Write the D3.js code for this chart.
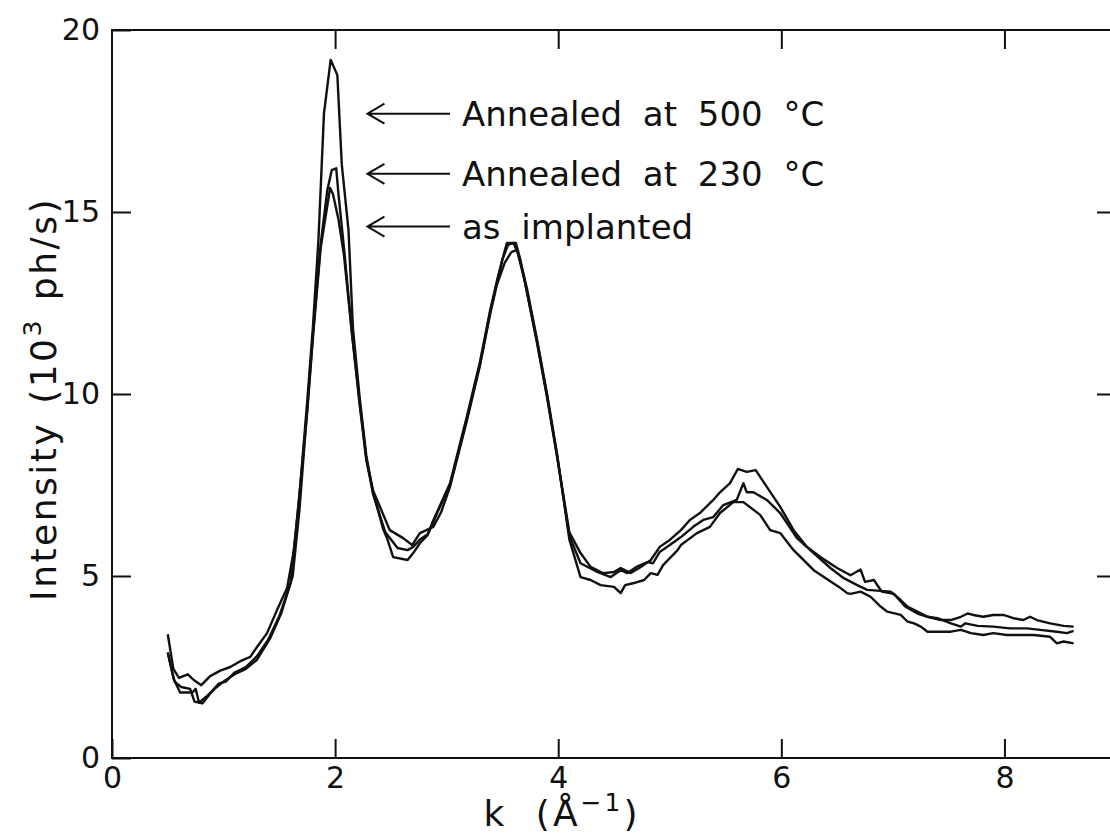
<!DOCTYPE html>
<html lang="en">
<head>
<meta charset="UTF-8">
<title>Intensity vs k</title>
<script src="https://d3js.org/d3.v7.min.js"></script>
<style>
body { margin: 0; background: #fff; overflow: hidden; }
svg { display: block; }
.tick text { font-family: "DejaVu Sans", sans-serif; font-size: 30px; fill: #111; }
.tick line { stroke: #111; stroke-width: 2; }
.frame { fill: none; stroke: #111; stroke-width: 2; }
.curve { fill: none; stroke: #111; stroke-width: 2.4; stroke-linejoin: round; }
.label { font-family: "DejaVu Sans", sans-serif; font-size: 34px; fill: #111; }
.title { font-family: "DejaVu Sans", sans-serif; font-size: 36px; fill: #111; }
.arrow { stroke: #111; stroke-width: 2; fill: none; }
</style>
</head>
<body>
<svg width="1110" height="833"></svg>
<script>
// axis ticks
const xTicks = [0, 2, 4, 6, 8];
const yTicks = [0, 5, 10, 15, 20];

// [k, intensity]
const annealed500 = [[0.50,3.40],[0.55,2.45],[0.60,2.20],[0.68,2.30],[0.73,2.15],[0.80,2.00],[0.88,2.25],[0.97,2.40],[1.06,2.50],[1.15,2.66],[1.24,2.78],[1.30,3.05],[1.39,3.43],[1.48,4.07],[1.57,4.67],[1.63,5.70],[1.68,7.20],[1.75,9.80],[1.80,11.80],[1.85,14.20],[1.90,17.70],[1.96,19.18],[2.02,18.76],[2.06,16.30],[2.12,14.50],[2.16,11.80],[2.22,9.90],[2.28,8.30],[2.34,7.30],[2.43,6.30],[2.47,6.00],[2.52,5.52],[2.65,5.44],[2.70,5.63],[2.76,5.90],[2.83,6.13],[2.87,6.46],[2.91,6.73],[3.03,7.55],[3.18,9.37],[3.30,10.90],[3.39,12.30],[3.45,13.10],[3.50,13.70],[3.54,14.15],[3.62,14.15],[3.66,13.70],[3.70,13.10],[3.81,11.40],[3.90,9.90],[3.99,8.27],[4.10,6.20],[4.20,5.63],[4.29,5.25],[4.40,5.08],[4.50,5.11],[4.56,5.22],[4.65,5.08],[4.74,5.25],[4.83,5.44],[4.91,5.80],[5.00,5.99],[5.10,6.26],[5.18,6.54],[5.27,6.73],[5.39,7.09],[5.45,7.30],[5.54,7.55],[5.61,7.94],[5.69,7.86],[5.77,7.91],[5.87,7.45],[5.99,6.90],[6.11,6.26],[6.23,5.80],[6.35,5.52],[6.50,5.22],[6.62,5.02],[6.71,5.18],[6.75,4.84],[6.83,4.89],[6.90,4.57],[7.01,4.51],[7.11,4.16],[7.22,3.97],[7.31,3.88],[7.40,3.84],[7.52,3.70],[7.61,3.61],[7.65,3.70],[7.76,3.63],[7.90,3.61],[8.05,3.56],[8.20,3.56],[8.32,3.52],[8.47,3.47],[8.56,3.43],[8.62,3.49]];

const annealed230 = [[0.50,2.90],[0.55,2.20],[0.61,1.80],[0.72,1.80],[0.75,1.90],[0.78,1.52],[0.85,1.70],[0.92,1.90],[1.00,2.10],[1.10,2.30],[1.20,2.45],[1.30,2.70],[1.42,3.30],[1.52,4.00],[1.62,5.00],[1.68,6.80],[1.75,9.60],[1.80,11.60],[1.87,14.10],[1.93,15.60],[1.97,16.15],[2.01,16.20],[2.03,15.50],[2.08,14.00],[2.15,11.70],[2.22,9.70],[2.28,8.20],[2.34,7.25],[2.45,6.20],[2.56,5.77],[2.65,5.71],[2.70,5.80],[2.76,6.00],[2.83,6.15],[2.87,6.40],[2.91,6.70],[3.03,7.50],[3.18,9.30],[3.30,10.85],[3.39,12.25],[3.45,13.05],[3.50,13.70],[3.55,14.10],[3.60,14.15],[3.64,13.85],[3.70,13.10],[3.81,11.45],[3.90,9.95],[3.99,8.30],[4.10,6.10],[4.20,5.35],[4.35,5.11],[4.47,4.97],[4.56,5.16],[4.62,5.08],[4.70,5.25],[4.80,5.38],[4.85,5.35],[4.91,5.66],[5.00,5.85],[5.10,6.07],[5.21,6.35],[5.30,6.54],[5.39,6.62],[5.48,6.95],[5.60,7.09],[5.66,7.55],[5.69,7.30],[5.75,7.30],[5.87,7.09],[5.99,6.73],[6.14,6.04],[6.29,5.63],[6.44,5.22],[6.56,4.94],[6.68,4.75],[6.77,4.62],[6.89,4.59],[6.98,4.57],[7.07,4.34],[7.13,4.16],[7.22,4.02],[7.31,3.88],[7.43,3.79],[7.52,3.79],[7.61,3.88],[7.67,3.97],[7.72,3.93],[7.81,3.88],[7.90,3.93],[7.99,3.93],[8.08,3.84],[8.17,3.79],[8.23,3.88],[8.29,3.79],[8.41,3.70],[8.53,3.63],[8.62,3.61]];

const asImplanted = [[0.50,2.90],[0.56,2.10],[0.62,1.95],[0.70,1.90],[0.74,1.55],[0.81,1.50],[0.90,1.85],[0.96,2.05],[1.02,2.10],[1.10,2.35],[1.20,2.50],[1.30,2.80],[1.40,3.25],[1.50,3.90],[1.60,4.80],[1.66,6.60],[1.75,9.50],[1.80,11.50],[1.87,14.00],[1.955,15.66],[1.98,15.50],[2.03,14.80],[2.08,13.80],[2.15,11.70],[2.22,9.80],[2.28,8.20],[2.34,7.35],[2.49,6.26],[2.61,6.04],[2.69,5.85],[2.76,6.18],[2.88,6.35],[2.95,6.75],[3.03,7.45],[3.18,9.25],[3.30,10.80],[3.39,12.20],[3.45,13.00],[3.52,13.60],[3.58,13.90],[3.63,13.96],[3.68,13.40],[3.72,12.90],[3.81,11.50],[3.90,10.00],[3.99,8.35],[4.10,6.00],[4.20,4.97],[4.29,4.89],[4.38,4.75],[4.50,4.70],[4.56,4.53],[4.60,4.75],[4.67,4.80],[4.77,4.89],[4.83,5.08],[4.89,5.03],[4.94,5.30],[5.07,5.71],[5.10,5.85],[5.24,6.17],[5.36,6.35],[5.45,6.73],[5.57,7.03],[5.66,7.03],[5.81,6.68],[5.90,6.26],[5.99,6.18],[6.11,5.71],[6.29,5.16],[6.53,4.67],[6.59,4.53],[6.62,4.51],[6.71,4.57],[6.80,4.43],[6.89,4.16],[6.95,4.02],[7.07,3.93],[7.13,3.75],[7.19,3.70],[7.25,3.61],[7.31,3.47],[7.43,3.47],[7.52,3.47],[7.61,3.52],[7.70,3.43],[7.81,3.38],[7.90,3.43],[8.02,3.38],[8.11,3.38],[8.26,3.38],[8.41,3.33],[8.47,3.15],[8.53,3.20],[8.62,3.15]];

// annotations: label text and the intensity level its arrow sits at
const labels = ["Annealed at 500 °C", "Annealed at 230 °C", "as implanted"];
const labelLevels = [17.7, 16.05, 14.6];

const svg = d3.select('svg');

const x = d3.scaleLinear().domain([0, 9]).range([112, 1116]);
const y = d3.scaleLinear().domain([0, 20]).range([758, 30]);

// frame
svg.append('rect')
    .attr('class', 'frame')
    .attr('x', x(0)).attr('y', y(20))
    .attr('width', x(9) - x(0)).attr('height', y(0) - y(20));

// ticks point inward on all four sides
svg.append('g')
    .attr('transform', `translate(0,${y(0)})`)
    .call(d3.axisBottom(x).tickValues(xTicks).tickSizeInner(-19).tickSizeOuter(0).tickPadding(9))
    .call(g => g.select('.domain').remove());

svg.append('g')
    .attr('transform', `translate(${x(0)},0)`)
    .call(d3.axisLeft(y).tickValues(yTicks).tickSizeInner(-19).tickSizeOuter(0).tickPadding(12))
    .call(g => g.select('.domain').remove());

svg.append('g')
    .attr('transform', `translate(0,${y(20)})`)
    .call(d3.axisTop(x).tickValues(xTicks.slice(1)).tickSizeInner(-19).tickSizeOuter(0).tickFormat(''))
    .call(g => g.select('.domain').remove());

svg.append('g')
    .attr('transform', `translate(${x(9)},0)`)
    .call(d3.axisRight(y).tickValues(yTicks.slice(1, 4)).tickSizeInner(-19).tickSizeOuter(0).tickFormat(''))
    .call(g => g.select('.domain').remove());

// curves
const line = d3.line().x(d => x(d[0])).y(d => y(d[1]));
[annealed500, annealed230, asImplanted].forEach(s => {
  svg.append('path').attr('class', 'curve').attr('d', line(s));
});

// arrows + labels
const ann = svg.append('g');
labels.forEach((t, i) => {
  const yy = y(labelLevels[i]);
  const x0 = x(2.29), x1 = x(3.03);
  ann.append('path')
      .attr('class', 'arrow')
      .attr('d', `M${x1},${yy}H${x0}M${x0 + 17},${yy - 10}L${x0},${yy}L${x0 + 17},${yy + 10}`);
  ann.append('text')
      .attr('class', 'label')
      .attr('x', x1 + 12)
      .attr('y', yy + 12)
      .attr('word-spacing', 10)
      .text(t);
});

// axis titles
const yTitle = svg.append('text')
    .attr('class', 'title')
    .attr('transform', `translate(56,${(y(0) + y(20)) / 2 + 5}) rotate(-90)`)
    .attr('text-anchor', 'middle')
    .attr('letter-spacing', 2.5)
    .attr('word-spacing', 4);
yTitle.append('tspan').text('Intensity (10');
yTitle.append('tspan').attr('dy', -15).attr('font-size', 25).text('3');
yTitle.append('tspan').attr('dy', 15).text(' ph/s)');

const xTitle = svg.append('text')
    .attr('class', 'title')
    .attr('x', 562)
    .attr('y', 826)
    .attr('text-anchor', 'middle')
    .attr('letter-spacing', 3)
    .attr('word-spacing', 14);
xTitle.append('tspan').text('k (Å');
xTitle.append('tspan').attr('dy', -15).attr('font-size', 25).text('−1');
xTitle.append('tspan').attr('dy', 15).text(')');
</script>
</body>
</html>
